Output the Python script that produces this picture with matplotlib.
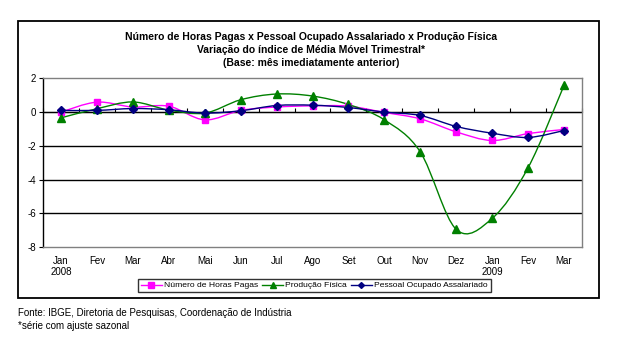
import matplotlib
matplotlib.use("Agg")
import matplotlib.pyplot as plt
from matplotlib.path import Path
from matplotlib.patches import PathPatch, Rectangle
from matplotlib.lines import Line2D
from matplotlib import font_manager as fm
import numpy as np

plt.rcParams['font.family'] = ['Liberation Sans', 'DejaVu Sans']

months = ["Jan\n2008", "Fev", "Mar", "Abr", "Mai", "Jun", "Jul", "Ago", "Set",
          "Out", "Nov", "Dez", "Jan\n2009", "Fev", "Mar"]
horas_pagas = [0.0, 0.59, 0.30, 0.35, -0.46, 0.10, 0.30, 0.37, 0.35,
               -0.02, -0.40, -1.17, -1.68, -1.27, -1.03]
producao_fisica = [-0.34, 0.20, 0.60, 0.12, -0.06, 0.73, 1.07, 0.95, 0.45,
                   -0.46, -2.36, -6.94, -6.29, -3.29, 1.58]
pessoal_ocupado = [0.10, 0.10, 0.21, 0.14, -0.06, 0.08, 0.39, 0.41, 0.27,
                   0.00, -0.20, -0.85, -1.25, -1.50, -1.09]
series_names = ["Número de Horas Pagas", "Produção Física", "Pessoal Ocupado Assalariado"]
yticks = [2, 0, -2, -4, -6, -8]

title_lines = ["Número de Horas Pagas x Pessoal Ocupado Assalariado x Produção Física",
               "Variação do índice de Média Móvel Trimestral*",
               "(Base: mês imediatamente anterior)"]
footnote1 = "Fonte: IBGE, Diretoria de Pesquisas, Coordenação de Indústria"
footnote2 = "*série com ajuste sazonal"

# choose a narrow font for title/legend if one is installed
_names = {f.name for f in fm.fontManager.ttflist}
if "Liberation Sans Narrow" in _names:
    narrow = dict(family=["Liberation Sans Narrow", "DejaVu Sans"])
    title_size, leg_size = 8.3, 7.3
else:
    narrow = dict(family=["Liberation Sans", "DejaVu Sans"])
    title_size, leg_size = 7.5, 6.1

W, H = 619, 341
fig = plt.figure(figsize=(W / 100, H / 100), dpi=100)
fig.patch.set_facecolor("white")

# outer frame
fig.add_artist(Rectangle((18 / W, 1 - 298 / H), 581 / W, 277 / H, transform=fig.transFigure,
                         fill=False, edgecolor="black", linewidth=1.3))

ax = fig.add_axes([43 / W, 1 - 247.3 / H, 539 / W, 169 / H])
x = np.arange(len(months))


def smooth_path(xs, ys):
    pts = np.column_stack([xs, ys]).astype(float)
    verts = [pts[0]]
    codes = [Path.MOVETO]
    n = len(pts)
    for i in range(n - 1):
        p0 = pts[i - 1] if i > 0 else pts[i]
        p1 = pts[i]
        p2 = pts[i + 1]
        p3 = pts[i + 2] if i + 2 < n else pts[i + 1]
        c1 = p1 + (p2 - p0) / 6.0
        c2 = p2 - (p3 - p1) / 6.0
        verts += [c1, c2, p2]
        codes += [Path.CURVE4] * 3
    return Path(verts, codes)


styles = [
    (horas_pagas, "#FF00FF", "s", 5),
    (producao_fisica, "#008000", "^", 5.5),
    (pessoal_ocupado, "#000080", "D", 4),
]
handles = []
for (vals, col, mk, ms), name in zip(styles, series_names):
    ax.add_patch(PathPatch(smooth_path(x, vals), fill=False, edgecolor=col, linewidth=1.0, zorder=3))
    ax.plot(x, vals, linestyle="none", marker=mk, markersize=ms, color=col, zorder=4)
    handles.append(Line2D([], [], color=col, marker=mk, markersize=ms - 1, linewidth=1.0, label=name))

ax.set_xlim(-0.5, len(months) - 0.5)
ax.set_ylim(-8, 2)
ax.set_yticks(yticks)
ax.set_yticklabels([str(v) for v in yticks], fontsize=7)
ax.set_xticks(x)
ax.set_xticklabels(months, fontsize=7)
ax.tick_params(axis="x", length=0, pad=6)
ax.tick_params(axis="y", length=3, width=0.8, pad=2)
for v in [0, -2, -4, -6]:
    ax.axhline(v, color="black", linewidth=1.0, zorder=1)
for s in ["top", "right", "bottom"]:
    ax.spines[s].set_color("#808080")
    ax.spines[s].set_linewidth(1.0)
ax.spines["left"].set_color("black")
ax.spines["left"].set_linewidth(1.0)

sec = ax.secondary_xaxis(0.8)
sec.set_xticks(np.arange(-0.5, len(months), 1.0))
sec.set_xticklabels([])
sec.tick_params(length=3, width=0.8, direction="out")
sec.spines["bottom"].set_visible(False)

for line, yy in zip(title_lines, [36.5, 50, 63.5]):
    fig.text(311 / W, 1 - yy / H, line, ha="center", va="center", fontsize=title_size,
             fontweight="bold", **narrow)

leg = fig.legend(handles=handles, loc="center", bbox_to_anchor=(314.5 / W, 1 - 285.5 / H),
                 ncol=3, frameon=True, fancybox=False, edgecolor="black",
                 prop=fm.FontProperties(size=leg_size, **narrow),
                 handlelength=2.4, handletextpad=0.3, columnspacing=0.5, borderpad=0.35)
leg.get_frame().set_linewidth(1.0)

fig.text(18 / W, 1 - 313 / H, footnote1, ha="left", va="center", fontsize=7)
fig.text(18 / W, 1 - 326 / H, footnote2, ha="left", va="center", fontsize=7)

fig.savefig("out.png", dpi=100)
